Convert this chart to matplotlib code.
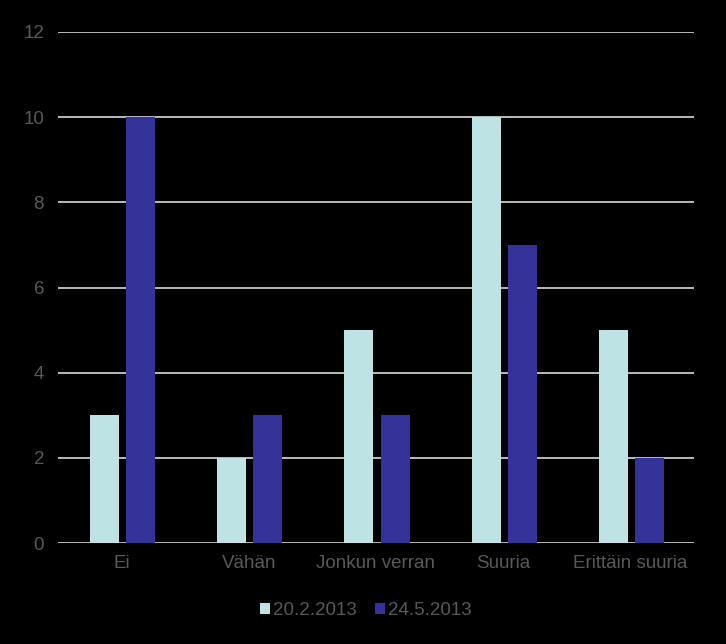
import numpy as np
import matplotlib
matplotlib.use('Agg')
import matplotlib.pyplot as plt

categories = ['Ei', 'Vähän', 'Jonkun verran', 'Suuria', 'Erittäin suuria']
series_names = ['20.2.2013', '24.5.2013']
values_feb = [3, 2, 5, 10, 5]
values_may = [10, 3, 3, 7, 2]
colors = ['#BDE3E4', '#35339A']

plt.rcParams['font.family'] = ['Liberation Sans', 'DejaVu Sans']

fig = plt.figure(figsize=(7.26, 6.44), dpi=100, facecolor='black')
ax = fig.add_axes([58 / 726, 1 - 543 / 644, 636 / 726, 511 / 644])
ax.set_facecolor('black')

x = np.arange(len(categories))
w = 0.228
ax.bar(x - 0.135, values_feb, w, color=colors[0], label=series_names[0], zorder=3)
ax.bar(x + 0.15, values_may, w, color=colors[1], label=series_names[1], zorder=3)

ax.set_xlim(-0.5, len(categories) - 0.5)
ax.set_ylim(0, 12)
ax.set_yticks(range(0, 13, 2))
ax.set_xticks(x)
ax.set_xticklabels(categories)
ax.yaxis.grid(True, color='#D9D9D9', linewidth=1.2, zorder=0)
ax.set_axisbelow(True)
for s in ax.spines.values():
    s.set_visible(False)
ax.tick_params(axis='both', length=0, colors='#595959', labelsize=13.5)
ax.tick_params(axis='x', pad=9)
ax.tick_params(axis='y', pad=10)

leg = ax.legend(loc='upper center', bbox_to_anchor=(0.484, -0.083), ncol=2, frameon=False,
                fontsize=13.5, handlelength=0.55, handleheight=0.55, handletextpad=0.15,
                columnspacing=0.95)
for t in leg.get_texts():
    t.set_color('#595959')

fig.savefig('out.png', dpi=100, facecolor='black')
